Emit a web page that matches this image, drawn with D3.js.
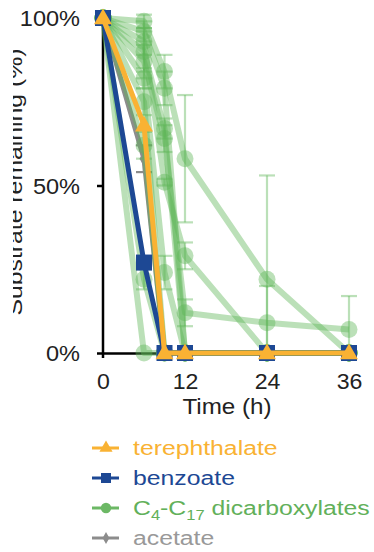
<!DOCTYPE html>
<html>
<head>
<meta charset="utf-8">
<script src="https://cdn.jsdelivr.net/npm/d3@7"></script>
<style>
  html, body { margin: 0; padding: 0; background: #fff; }
  svg { display: block; font-family: "Liberation Sans", Arial, sans-serif; }
</style>
</head>
<body>
<svg id="chart" width="374" height="552"></svg>
<script>
// sampling times (h)
var times = [0, 6, 9, 12, 24, 36];

// % substrate remaining
var terephthalate = [100, 68, 0, 0, 0, 0];
var benzoate      = [100, 27, 0, 0, 0, 0];
var acetate       = [100, 58, 0, 0, 0, 0];
var acetateErr    = [0, 4, 0, 0, 0, 0];

// C4-C17 dicarboxylates, one array per substrate
var dicarb = [
  [100, 99, 84, 58, 22, 0],
  [100, 93, 51, 29, 0, 0],
  [100, 87, 64, 12, 9, 7],
  [100, 96, 79, 0, 0, 0],
  [100, 90, 67, 0, 0, 0],
  [100, 82, 24, 0, 0, 0],
  [100, 75, 0, 0, 0, 0],
  [100, 62, 0, 0, 0, 0],
  [100, 22, 0, 0, 0, 0],
  [100, 0, 0, 0, 0, 0]
];
var dicarbErr = [
  [0, 2, 5, 19, 31, 0],
  [0, 4, 1, 4, 0, 0],
  [0, 5, 4, 4, 11, 10],
  [0, 3, 5, 0, 0, 0],
  [0, 6, 3, 0, 0, 0],
  [0, 3, 5, 0, 0, 0],
  [0, 4, 0, 0, 0, 0],
  [0, 4, 0, 0, 0, 0],
  [0, 3, 0, 0, 0, 0],
  [0, 0, 0, 0, 0, 0]
];

var xTicks = [0, 12, 24, 36];
var yTicks = [0, 50, 100];

var ORANGE = "#f9b233", BLUE = "#1d4894", GREEN = "#5db556", GRAY = "#8c8c8c";

var svg = d3.select("#chart");
var x = d3.scaleLinear().domain([0, 36]).range([103, 349]);
var y = d3.scaleLinear().domain([0, 100]).range([353, 18]);

function pts(vals) {
  return vals.map(function(v, i) { return { t: times[i], v: v }; });
}
var line = d3.line().x(function(d) { return x(d.t); }).y(function(d) { return y(d.v); });

// ---- axes ----
var yAxis = svg.append("g").attr("transform", "translate(103,0)")
  .call(d3.axisLeft(y).tickValues(yTicks).tickSize(6).tickSizeOuter(0)
    .tickFormat(function(d) { return d + "%"; }));
yAxis.select(".domain").remove();
yAxis.selectAll(".tick line").attr("stroke", "#000").attr("stroke-width", 2.5);
yAxis.selectAll(".tick text")
  .attr("x", 0).attr("dy", null).attr("y", 0)
  .attr("font-size", 22).attr("fill", "#222")
  .attr("dominant-baseline", "central")
  .attr("transform", "translate(-23,0) scale(1.07,1)");

svg.append("line").attr("x1", 103).attr("x2", 103)
  .attr("y1", y(100)).attr("y2", y(0) + 5)
  .attr("stroke", "#000").attr("stroke-width", 2.5);

var xAxis = svg.append("g").attr("transform", "translate(0," + y(0) + ")")
  .call(d3.axisBottom(x).tickValues(xTicks).tickSize(0).tickSizeOuter(0));
xAxis.select(".domain").attr("stroke", "#000").attr("stroke-width", 2.5);
xAxis.selectAll(".tick text")
  .attr("y", 36).attr("dy", null)
  .attr("font-size", 22).attr("fill", "#222")
  .attr("transform", "scale(1.05,1)");

svg.append("text").attr("x", 0).attr("y", 0)
  .attr("text-anchor", "middle").attr("font-size", 22).attr("fill", "#222")
  .attr("transform", "translate(227,414) scale(1.1,1)")
  .text("Time (h)");

// y title, cut off at the left edge as in the figure
svg.append("clipPath").attr("id", "ytclip")
  .append("rect").attr("x", 13).attr("y", 0).attr("width", 40).attr("height", 400);
svg.append("g").attr("clip-path", "url(#ytclip)")
  .append("text")
  .attr("transform", "translate(22,182) rotate(-90) scale(1.18,1)")
  .attr("text-anchor", "middle").attr("font-size", 21).attr("fill", "#222")
  .text("Substrate remaining (%)");

// ---- data ----
var plot = svg.append("g");

function errorBars(g, vals, errs, color, op) {
  vals.forEach(function(v, i) {
    var e = errs[i];
    if (!e) return;
    var lo = Math.max(0, v - e), hi = v + e, cx = x(times[i]);
    g.append("line").attr("x1", cx).attr("x2", cx).attr("y1", y(lo)).attr("y2", y(hi))
      .attr("stroke", color).attr("stroke-width", 2.2).attr("stroke-opacity", op);
    [lo, hi].forEach(function(b) {
      if (b === 0) return;
      g.append("line").attr("x1", cx - 8).attr("x2", cx + 8).attr("y1", y(b)).attr("y2", y(b))
        .attr("stroke", color).attr("stroke-width", 2.2).attr("stroke-opacity", op);
    });
  });
}

// acetate
var ga = plot.append("g");
ga.append("path").attr("d", line(pts(acetate))).attr("fill", "none")
  .attr("stroke", GRAY).attr("stroke-width", 5);
errorBars(ga, acetate, acetateErr, GRAY, 1);
ga.selectAll("path.m").data(pts(acetate)).enter().append("path")
  .attr("d", d3.symbol().type(d3.symbolDiamond).size(70))
  .attr("transform", function(d) { return "translate(" + x(d.t) + "," + y(d.v) + ")"; })
  .attr("fill", GRAY);

// dicarboxylates
dicarb.forEach(function(vals, k) {
  var g = plot.append("g");
  g.append("path").attr("d", line(pts(vals))).attr("fill", "none")
    .attr("stroke", GREEN).attr("stroke-width", 6).attr("stroke-opacity", 0.42)
    .attr("stroke-linejoin", "round");
  errorBars(g, vals, dicarbErr[k], GREEN, 0.42);
  g.selectAll("circle").data(pts(vals)).enter().append("circle")
    .attr("cx", function(d) { return x(d.t); })
    .attr("cy", function(d) { return y(d.v); })
    .attr("r", 8.5).attr("fill", GREEN).attr("fill-opacity", 0.42);
});

// benzoate
var gb = plot.append("g");
gb.append("path").attr("d", line(pts(benzoate))).attr("fill", "none")
  .attr("stroke", BLUE).attr("stroke-width", 5);
gb.selectAll("path.m").data(pts(benzoate)).enter().append("path")
  .attr("d", d3.symbol().type(d3.symbolSquare).size(256))
  .attr("transform", function(d) { return "translate(" + x(d.t) + "," + y(d.v) + ")"; })
  .attr("fill", BLUE);

// terephthalate
var gt = plot.append("g");
gt.append("path").attr("d", line(pts(terephthalate))).attr("fill", "none")
  .attr("stroke", ORANGE).attr("stroke-width", 5);
gt.selectAll("path.m").data(pts(terephthalate)).enter().append("path")
  .attr("d", d3.symbol().type(d3.symbolTriangle).size(140))
  .attr("transform", function(d) { return "translate(" + x(d.t) + "," + (y(d.v) + 1) + ")"; })
  .attr("fill", ORANGE);

// ---- legend ----
var legend = [
  { name: "terephthalate", color: ORANGE, text: ORANGE, sym: d3.symbolTriangle, size: 75 },
  { name: "benzoate", color: BLUE, text: BLUE, sym: d3.symbolSquare, size: 100 },
  { name: "dicarb", color: "#6cb865", text: "#62b05a", sym: d3.symbolCircle, size: 85 },
  { name: "acetate", color: GRAY, text: "#999", sym: d3.symbolDiamond, size: 40 }
];
var lg = svg.append("g");
legend.forEach(function(d, i) {
  var by = 455 + i * 30, my = by - 7;
  lg.append("line").attr("x1", 92).attr("x2", 119).attr("y1", my).attr("y2", my)
    .attr("stroke", d.color).attr("stroke-width", 3);
  lg.append("path").attr("d", d3.symbol().type(d.sym).size(d.size))
    .attr("transform", "translate(106," + my + ")").attr("fill", d.color);
  var t = lg.append("text").attr("font-size", 21).attr("fill", d.text)
    .attr("transform", "translate(133," + by + ") scale(1.18,1)");
  if (d.name === "dicarb") {
    t.append("tspan").text("C");
    t.append("tspan").attr("dy", 5).attr("font-size", 14).text("4");
    t.append("tspan").attr("dy", -5).text("-C");
    t.append("tspan").attr("dy", 5).attr("font-size", 14).text("17");
    t.append("tspan").attr("dy", -5).text(" dicarboxylates");
  } else {
    t.text(d.name);
  }
});
</script>
</body>
</html>
